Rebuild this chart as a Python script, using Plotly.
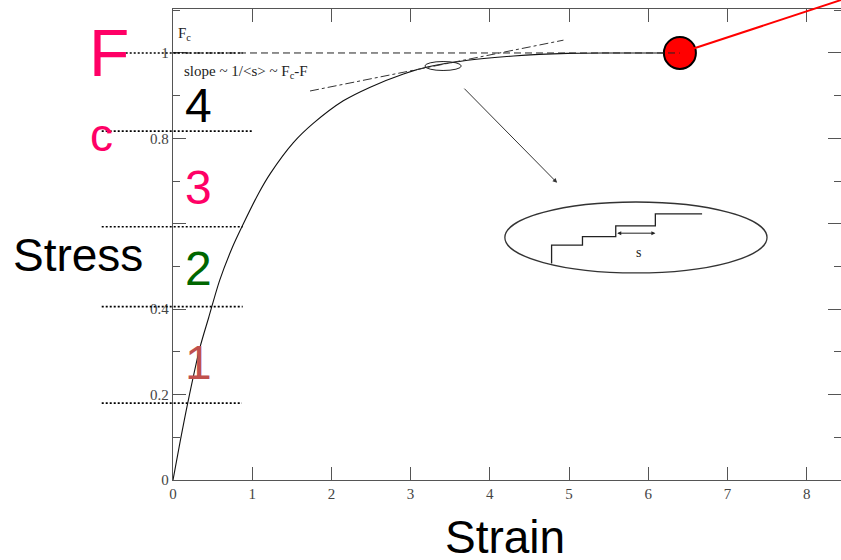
import plotly.graph_objects as go

# Stress-strain curve
strain = [0.0, 0.09, 0.18, 0.34, 0.45, 0.59, 0.75, 0.87, 1.08, 1.23, 1.52, 1.77,
          2.15, 2.49, 2.91, 3.21, 3.72, 4.3, 4.98, 5.5, 6.0, 6.4]
stress = [0.0, 0.09, 0.175, 0.31, 0.38, 0.468, 0.545, 0.593, 0.671, 0.718, 0.79, 0.835,
          0.888, 0.920, 0.951, 0.967, 0.983, 0.993, 0.999, 1.0, 1.0, 1.0]

# Critical force and end point
f_c = 1.0
end_strain = [6.4]
end_stress = [1.0]

# Avalanche staircase sketch inside the zoom ellipse
step_x = [4.78, 5.17, 5.59, 6.09, 6.68]
step_y = [0.507, 0.550, 0.570, 0.595, 0.623]

# Horizontal regime boundaries (stress levels)
level_y = [1.0, 0.817, 0.593, 0.406, 0.18]
level_x_end = [0.88, 1.0, 0.88, 0.88, 0.87]

regime_labels = ["4", "3", "2", "1"]
regime_y = [0.876, 0.684, 0.496, 0.276]
regime_colors = ["#000000", "#ff0066", "#006600", "#c0504d"]

x_ticks = [0, 1, 2, 3, 4, 5, 6, 7, 8]
y_ticks = [0, 0.2, 0.4, 0.6, 0.8, 1.0]
y_tick_text = ["0", "0.2", "0.4", "", "0.8", "1"]

XMAX = 8.434
YMAX = 1.103


def px(x):
    return x / XMAX


def py(y):
    return y / YMAX


fig = go.Figure()

# staircase inset
fig.add_trace(go.Scatter(x=step_x, y=step_y, mode="lines", line_shape="vh",
                         line=dict(color="#222", width=1.3), hoverinfo="skip"))

# main curve
fig.add_trace(go.Scatter(x=strain, y=stress, mode="lines", line_shape="spline",
                         line=dict(color="#111", width=1.1, smoothing=0.8), hoverinfo="skip"))

shapes = []
# dashed critical stress line
shapes.append(dict(type="line", xref="x", yref="y", x0=0, x1=end_strain[0], y0=f_c, y1=f_c,
                   line=dict(color="#222", width=1, dash="7px,4px")))
# tangent dash-dot line
shapes.append(dict(type="line", xref="x", yref="y", x0=1.73, y0=0.911, x1=4.93, y1=1.030,
                   line=dict(color="#333", width=1, dash="dashdot")))
# small ellipse on the curve
shapes.append(dict(type="circle", xref="x", yref="y", x0=3.18, x1=3.64, y0=0.959, y1=0.980,
                   line=dict(color="#222", width=1)))
# large ellipse for the zoomed view
shapes.append(dict(type="circle", xref="x", yref="y", x0=4.19, x1=7.50, y0=0.485, y1=0.651,
                   line=dict(color="#333", width=1.3)))
# dotted regime boundaries
for yv, xe in zip(level_y, level_x_end):
    shapes.append(dict(type="line", xref="paper", yref="paper",
                       x0=px(-0.9), x1=px(xe), y0=py(yv), y1=py(yv),
                       line=dict(color="#000", width=1.6, dash="2px,2px")))
# red line leaving the end point
shapes.append(dict(type="line", xref="paper", yref="paper",
                   x0=px(end_strain[0]), y0=py(end_stress[0]), x1=px(8.434), y1=py(1.124),
                   line=dict(color="#ff0000", width=2)))

fig.update_layout(shapes=shapes)

# end point marker
fig.add_trace(go.Scatter(x=end_strain, y=end_stress, mode="markers", cliponaxis=False,
                         marker=dict(size=32, color="#ff0000", line=dict(color="#000", width=2)),
                         hoverinfo="skip"))

ann = []
serif = "Liberation Serif, Times New Roman, serif"
sans = "Liberation Sans, Arial, sans-serif"
ann.append(dict(x=0.15, y=1.045, text="F<sub>c</sub>", showarrow=False,
                font=dict(family=serif, size=15, color="#222")))
ann.append(dict(x=0.11, y=0.955, text="slope ~ 1/&lt;s&gt; ~ F<sub>c</sub>-F", showarrow=False,
                xanchor="left", font=dict(family=serif, size=15, color="#222")))
ann.append(dict(x=5.88, y=0.532, text="s", showarrow=False,
                font=dict(family=serif, size=14, color="#222")))
# arrow from the small ellipse to the zoomed view
ann.append(dict(x=4.85, y=0.696, ax=3.66, ay=0.920, axref="x", ayref="y", text="",
                showarrow=True, arrowhead=2, arrowsize=0.9, arrowwidth=1, arrowcolor="#333"))
# double-headed arrow marking an avalanche size
ann.append(dict(x=6.09, y=0.578, ax=5.59, ay=0.578, axref="x", ayref="y", text="",
                showarrow=True, arrowhead=2, startarrowhead=2, arrowside="end+start",
                arrowsize=0.8, startarrowsize=0.8, arrowwidth=1, arrowcolor="#222"))
for t, yv, c in zip(regime_labels, regime_y, regime_colors):
    ann.append(dict(x=0.32, y=yv, text=t, showarrow=False,
                    font=dict(family=sans, size=48, color=c)))

# labels placed in the left and bottom margins
margin_labels = [
    ("F", -0.81, 1.0, 66, "#ff0066"),
    ("c", -0.90, 0.808, 46, "#ff0066"),
    ("Stress", -1.2, 0.527, 46, "#000"),
    ("Strain", 4.19, -0.133, 46, "#000"),
]
for t, xv, yv, sz, c in margin_labels:
    ann.append(dict(xref="paper", yref="paper", x=px(xv), y=py(yv), text=t, showarrow=False,
                    xanchor="center", yanchor="middle",
                    font=dict(family=sans, size=sz, color=c)))

axis_common = dict(showline=True, linecolor="#555", linewidth=1.3, mirror="ticks",
                   ticks="inside", tickcolor="#555", tickwidth=1.2, ticklen=13,
                   showgrid=False, zeroline=False,
                   tickfont=dict(family=serif, size=15, color="#444"))

fig.update_layout(
    width=841, height=560,
    margin=dict(l=173, r=0, t=9, b=80),
    paper_bgcolor="white", plot_bgcolor="white",
    showlegend=False,
    annotations=ann,
    xaxis=dict(range=[0, XMAX], tickvals=x_ticks, **axis_common),
    yaxis=dict(range=[0, YMAX], tickvals=y_ticks, ticktext=y_tick_text,
               minor=dict(ticks="inside", ticklen=7, dtick=0.1, tick0=0, tickcolor="#555"),
               **axis_common),
)

fig.write_html("out.html")
